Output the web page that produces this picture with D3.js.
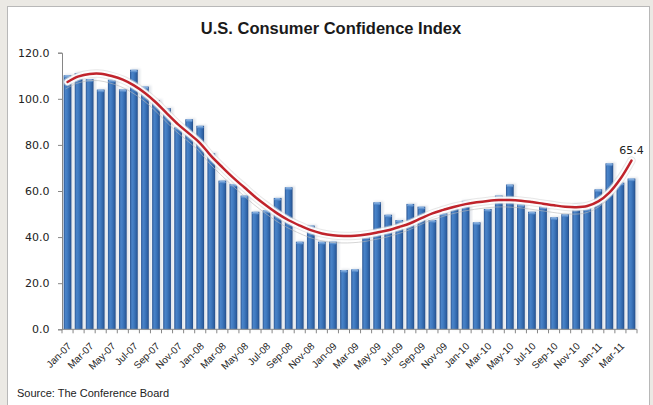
<!DOCTYPE html>
<html>
<head>
<meta charset="utf-8">
<script src="https://cdn.jsdelivr.net/npm/d3@7"></script>
<style>
  html, body { margin: 0; padding: 0; background: #ebe9e4; }
  svg { display: block; }
</style>
</head>
<body>
<svg id="chart" width="653" height="405"></svg>
<script>
// Monthly index readings, Jan-07 through Apr-11
const months = [
  "Jan-07","Feb-07","Mar-07","Apr-07","May-07","Jun-07","Jul-07","Aug-07","Sep-07","Oct-07","Nov-07","Dec-07",
  "Jan-08","Feb-08","Mar-08","Apr-08","May-08","Jun-08","Jul-08","Aug-08","Sep-08","Oct-08","Nov-08","Dec-08",
  "Jan-09","Feb-09","Mar-09","Apr-09","May-09","Jun-09","Jul-09","Aug-09","Sep-09","Oct-09","Nov-09","Dec-09",
  "Jan-10","Feb-10","Mar-10","Apr-10","May-10","Jun-10","Jul-10","Aug-10","Sep-10","Oct-10","Nov-10","Dec-10",
  "Jan-11","Feb-11","Mar-11","Apr-11"
];
const values = [
  110.2, 111.2, 108.5, 104.0, 108.3, 104.1, 112.6, 105.3, 99.4, 95.9, 87.6, 91.1,
  88.3, 76.4, 64.5, 63.0, 58.0, 51.0, 51.6, 57.0, 61.6, 38.0, 45.0, 38.0,
  38.0, 25.7, 26.0, 40.2, 55.1, 49.7, 47.4, 54.4, 53.2, 47.4, 50.3, 53.6,
  55.7, 46.4, 52.2, 58.0, 62.8, 54.2, 51.0, 53.3, 48.6, 49.9, 54.3, 52.5,
  60.7, 72.0, 63.6, 65.4
];
// Smoothed trend readings, one per month
const trend = [
  107.3, 109.7, 110.8, 110.9, 109.9, 108.3, 105.8, 102.5, 98.4, 93.6, 88.9, 84.9,
  80.7, 75.1, 70.3, 65.7, 61.5, 57.3, 53.6, 50.2, 47.3, 45.0, 43.0, 41.6,
  40.8, 40.5, 40.6, 41.1, 42.0, 43.0, 44.4, 46.0, 48.2, 50.3, 51.8, 53.2,
  54.3, 55.1, 55.7, 56.1, 56.1, 55.8, 55.2, 54.5, 53.8, 53.2, 53.0, 53.5,
  55.5, 59.3, 65.3, 73.2
];
const tickLabels = months.filter((m, i) => i % 2 === 0);
const yTicks = [0, 20, 40, 60, 80, 100, 120];
const lastLabel = "65.4";

const svg = d3.select("#chart");
const plot = { left: 62, right: 637, top: 52.7, bottom: 329.3 };

// white chart panel
svg.append("rect")
  .attr("x", 7.5).attr("y", 6.5)
  .attr("width", 642).attr("height", 410)
  .attr("fill", "#ffffff").attr("stroke", "#b8b8b8").attr("stroke-width", 1);

const defs = svg.append("defs");
const grad = defs.append("linearGradient").attr("id", "barGrad")
  .attr("x1", "0%").attr("x2", "100%").attr("y1", "0%").attr("y2", "0%");
[["0%", "#2b5693"], ["25%", "#4a84c9"], ["50%", "#3f79bf"], ["80%", "#2f63a6"], ["100%", "#244c86"]]
  .forEach(([o, c]) => grad.append("stop").attr("offset", o).attr("stop-color", c));
const capGrad = defs.append("linearGradient").attr("id", "capGrad")
  .attr("x1", "0%").attr("x2", "0%").attr("y1", "0%").attr("y2", "100%");
[["0%", "#9cc0ea"], ["100%", "#3f79bf"]]
  .forEach(([o, c]) => capGrad.append("stop").attr("offset", o).attr("stop-color", c));
defs.append("filter").attr("id", "soft")
  .append("feGaussianBlur").attr("stdDeviation", 1.2);

const x = d3.scaleBand().domain(months).range([plot.left, plot.right]).paddingInner(0.3).paddingOuter(0.15);
const y = d3.scaleLinear().domain([0, 120]).range([plot.bottom, plot.top]);

// title
svg.append("text")
  .attr("x", 331).attr("y", 34)
  .attr("text-anchor", "middle")
  .attr("font-family", "Liberation Sans, Arial, sans-serif")
  .attr("font-weight", "bold").attr("font-size", 16.5)
  .attr("fill", "#1a1a1a")
  .text("U.S. Consumer Confidence Index");

// bar shadows
svg.append("g").selectAll("rect").data(values).join("rect")
  .attr("x", (d, i) => x(months[i]) + 1)
  .attr("y", d => y(d) - 1)
  .attr("width", x.bandwidth() + 1.5)
  .attr("height", d => y(0) - y(d) + 1)
  .attr("fill", "#c9d0da").attr("opacity", 0.55)
  .attr("filter", "url(#soft)");

// bars
const bars = svg.append("g");
bars.selectAll("rect.bar").data(values).join("rect")
  .attr("class", "bar")
  .attr("x", (d, i) => x(months[i]))
  .attr("y", d => y(d))
  .attr("width", x.bandwidth())
  .attr("height", d => y(0) - y(d))
  .attr("fill", "url(#barGrad)");
bars.selectAll("rect.cap").data(values).join("rect")
  .attr("class", "cap")
  .attr("x", (d, i) => x(months[i]) + 0.5)
  .attr("y", d => y(d))
  .attr("width", x.bandwidth() - 1)
  .attr("height", 3)
  .attr("rx", 2)
  .attr("fill", "url(#capGrad)");

// axes
const axisColor = "#868686";
const yAxis = svg.append("g").attr("transform", `translate(${plot.left},0)`)
  .call(d3.axisLeft(y).tickValues(yTicks).tickSize(4).tickFormat(d3.format(".1f")));
yAxis.select(".domain").attr("stroke", axisColor);
yAxis.selectAll(".tick line").attr("stroke", axisColor);
yAxis.selectAll(".tick text")
  .attr("x", -12.5)
  .attr("font-family", "DejaVu Sans, sans-serif").attr("font-size", 11)
  .attr("fill", "#222");

const xAxis = svg.append("g").attr("transform", `translate(0,${plot.bottom})`);
xAxis.append("line")
  .attr("x1", plot.left).attr("x2", plot.right)
  .attr("stroke", axisColor);
const step = x.step();
const boundaries = months.map((m, i) => x(m) - step * 0.15).concat([plot.right]);
xAxis.selectAll("line.tk").data(boundaries).join("line")
  .attr("class", "tk")
  .attr("x1", d => d).attr("x2", d => d)
  .attr("y1", 0).attr("y2", 4)
  .attr("stroke", axisColor);
xAxis.selectAll("text").data(tickLabels).join("text")
  .attr("transform", d => `translate(${x(d) + x.bandwidth() / 2 + 2},${15})rotate(-45)`)
  .attr("text-anchor", "end")
  .attr("dy", "0.35em")
  .attr("font-family", "Liberation Sans, Arial, sans-serif")
  .attr("font-size", 10)
  .attr("fill", "#222")
  .text(d => d);

// trend line with soft halo and offset shadow
const line = d3.line()
  .x((d, i) => x(months[i]) + x.bandwidth() / 2)
  .y(d => y(d))
  .curve(d3.curveCatmullRom.alpha(0.5));
svg.append("path").datum(trend)
  .attr("d", line)
  .attr("transform", "translate(-2,7)")
  .attr("fill", "none").attr("stroke", "#b9b9b9").attr("stroke-width", 1).attr("opacity", 0.6);
svg.append("path").datum(trend)
  .attr("d", line)
  .attr("fill", "none").attr("stroke", "#d4d4d4").attr("stroke-width", 8.5).attr("opacity", 0.55)
  .attr("stroke-linecap", "round");
svg.append("path").datum(trend)
  .attr("d", line)
  .attr("fill", "none").attr("stroke", "#ffffff").attr("stroke-width", 6.5).attr("opacity", 0.9)
  .attr("stroke-linecap", "round");
svg.append("path").datum(trend)
  .attr("d", line)
  .attr("fill", "none").attr("stroke", "#c0232b").attr("stroke-width", 2.5)
  .attr("stroke-linecap", "round");

// value label on the latest month
const last = months.length - 1;
svg.append("text")
  .attr("x", x(months[last]) + x.bandwidth() / 2)
  .attr("y", y(values[last]) - 25)
  .attr("text-anchor", "middle")
  .attr("font-family", "DejaVu Sans, sans-serif").attr("font-size", 11)
  .attr("fill", "#222")
  .text(lastLabel);

// source note
svg.append("text")
  .attr("x", 17).attr("y", 397)
  .attr("font-family", "Liberation Sans, Arial, sans-serif").attr("font-size", 11)
  .attr("fill", "#222")
  .text("Source: The Conference Board");
</script>
</body>
</html>
